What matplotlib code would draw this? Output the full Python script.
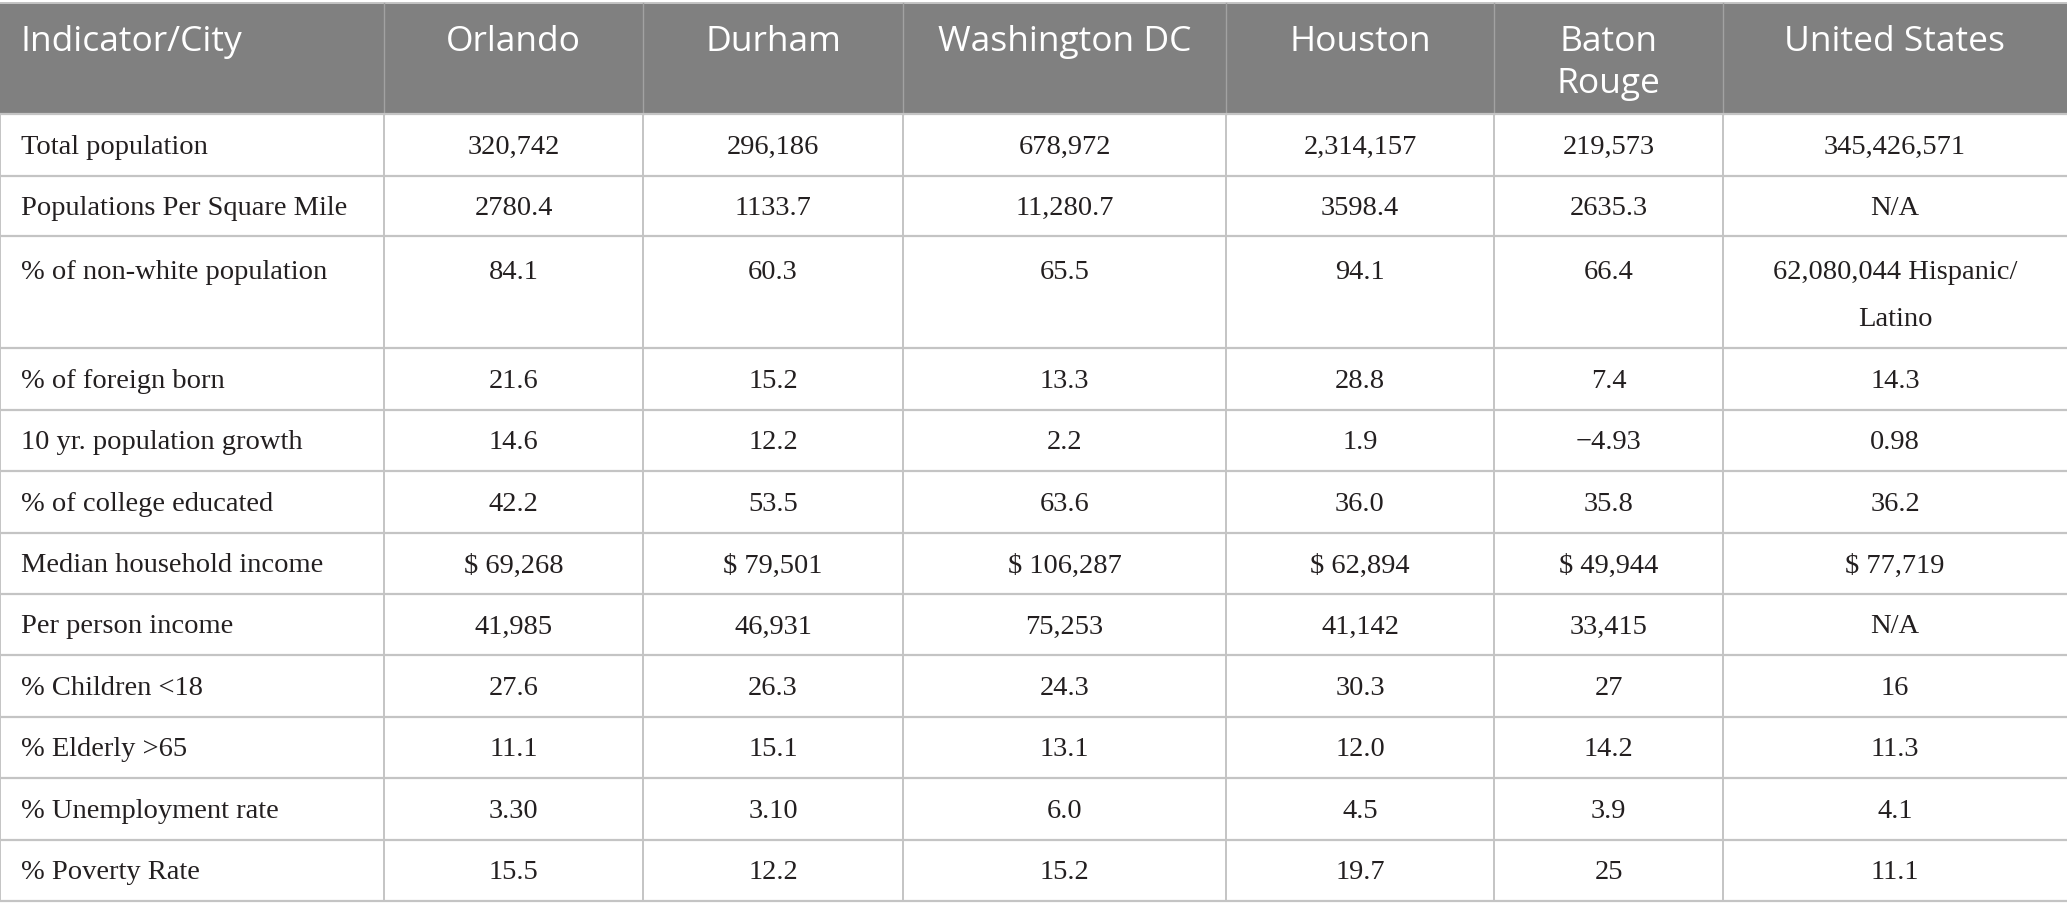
import matplotlib.pyplot as plt
from matplotlib.patches import Rectangle

# table content
header = ["Indicator/City", "Orlando", "Durham", "Washington DC", "Houston",
          "Baton\nRouge", "United States"]
indicators = ["Total population", "Populations Per Square Mile",
              "% of non-white population", "% of foreign born",
              "10 yr. population growth", "% of college educated",
              "Median household income", "Per person income",
              "% Children <18", "% Elderly >65", "% Unemployment rate",
              "% Poverty Rate"]
orlando = ["320,742", "2780.4", "84.1", "21.6", "14.6", "42.2", "$ 69,268",
           "41,985", "27.6", "11.1", "3.30", "15.5"]
durham = ["296,186", "1133.7", "60.3", "15.2", "12.2", "53.5", "$ 79,501",
          "46,931", "26.3", "15.1", "3.10", "12.2"]
washington = ["678,972", "11,280.7", "65.5", "13.3", "2.2", "63.6", "$ 106,287",
              "75,253", "24.3", "13.1", "6.0", "15.2"]
houston = ["2,314,157", "3598.4", "94.1", "28.8", "1.9", "36.0", "$ 62,894",
           "41,142", "30.3", "12.0", "4.5", "19.7"]
baton_rouge = ["219,573", "2635.3", "66.4", "7.4", "\u22124.93", "35.8", "$ 49,944",
               "33,415", "27", "14.2", "3.9", "25"]
united_states = ["345,426,571", "N/A", "62,080,044 Hispanic/\nLatino", "14.3", "0.98",
                 "36.2", "$ 77,719", "N/A", "16", "11.3", "4.1", "11.1"]
columns = [indicators, orlando, durham, washington, houston, baton_rouge, united_states]

# layout in pixels
W, H = 2067, 920
col_edges = [0, 384, 643, 903, 1226, 1494, 1723, 2067]
head_top, head_bot = 4, 115
row_edges = [115, 177, 237, 349, 411, 472, 534, 595, 656, 718, 779, 841, 902]

head_color = "#808080"
line_color = "#c4c4c4"
text_color = "#231f20"

fig = plt.figure(figsize=(W / 100, H / 100), dpi=100)
ax = fig.add_axes([0, 0, 1, 1])
ax.set_xlim(0, W)
ax.set_ylim(H, 0)
ax.axis("off")

# header band
ax.add_patch(Rectangle((0, head_top), W, head_bot - head_top, color=head_color, lw=0))
ax.plot([0, W], [head_top, head_top], color=line_color, lw=1.4)
for x in col_edges[1:-1]:
    ax.plot([x, x], [head_top, head_bot], color="#a2a2a2", lw=1.0)

for j, name in enumerate(header):
    if j == 0:
        x, ha = col_edges[0] + 21, "left"
    else:
        x, ha = (col_edges[j] + col_edges[j + 1]) / 2, "center"
    ax.text(x, 25, name, ha=ha, va="top", color="white", fontsize=25.5,
            family="Open Sans", linespacing=1.32)

# grid
for y in row_edges:
    ax.plot([0, W], [y, y], color=line_color, lw=1.6, solid_capstyle="butt")
for x in col_edges[:-1]:
    ax.plot([x, x], [row_edges[0], row_edges[-1]], color=line_color, lw=1.4)

# body text
for i in range(len(indicators)):
    top, bot = row_edges[i], row_edges[i + 1]
    tall = (bot - top) > 80
    for j, col in enumerate(columns):
        if j == 0:
            x, ha = col_edges[0] + 21, "left"
        else:
            x, ha = (col_edges[j] + col_edges[j + 1]) / 2, "center"
        if tall:
            y, va = top + 23, "top"
        else:
            y, va = (top + bot) / 2 + 1.5, "center"
        ax.text(x, y, col[i], ha=ha, va=va, color=text_color, fontsize=20.5,
                family="Liberation Serif", linespacing=2.15)

fig.savefig("out.png", dpi=100, facecolor="white")
